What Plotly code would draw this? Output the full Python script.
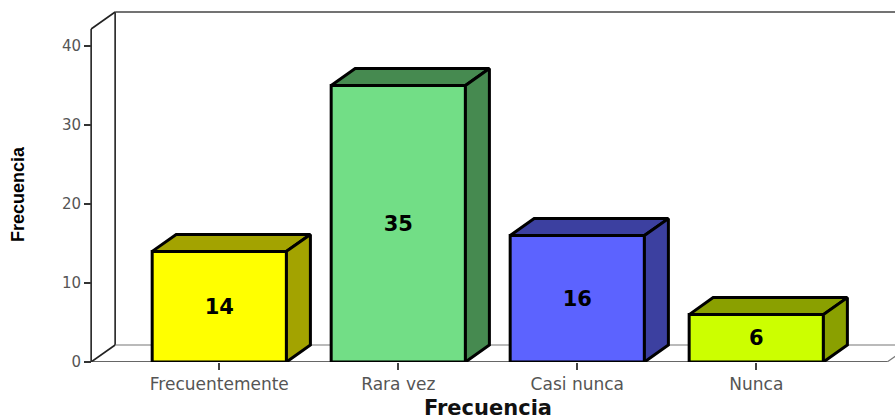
import plotly.graph_objects as go

# data
categories = ["Frecuentemente", "Rara vez", "Casi nunca", "Nunca"]
counts = [14, 35, 16, 6]
front_colors = ["#FFFF00", "#72DE86", "#5C63FF", "#CCFF00"]
shade_colors = ["#A3A300", "#468A50", "#3C40A0", "#8AA000"]
y_ticks = [0, 10, 20, 30, 40]

# fake 3d geometry (axis units)
bar_w = 0.75
dx = 0.134
dy = 2.15
x_lo, x_hi = -0.89, 3.775
y_hi = 45.82
wall_x = -0.716
wall_top = 42.15
floor_end = 3.731

xs = list(range(len(categories)))

fig = go.Figure()

# front faces
fig.add_trace(go.Bar(
    x=xs, y=counts, width=bar_w,
    marker=dict(color=front_colors, line=dict(color="black", width=3)),
    text=[str(v) for v in counts], textposition="inside",
    insidetextanchor="middle", textangle=0,
    textfont=dict(family="DejaVu Sans", size=21, color="black", weight="bold"),
    hoverinfo="skip", showlegend=False,
))

# top and side faces
for x, v, c in zip(xs, counts, shade_colors):
    l, r = x - bar_w / 2, x + bar_w / 2
    fig.add_trace(go.Scatter(
        x=[l, l + dx, r + dx, r, l], y=[v, v + dy, v + dy, v, v],
        fill="toself", fillcolor=c, mode="lines",
        line=dict(color="black", width=3), hoverinfo="skip", showlegend=False,
    ))
    fig.add_trace(go.Scatter(
        x=[r, r + dx, r + dx, r, r], y=[0, dy, v + dy, v, 0],
        fill="toself", fillcolor=c, mode="lines",
        line=dict(color="black", width=3), hoverinfo="skip", showlegend=False,
    ))

# walls and floor
def seg(x0, y0, x1, y1, color="#222", width=1.6):
    fig.add_shape(type="line", xref="x", yref="y", x0=x0, y0=y0, x1=x1, y1=y1,
                  line=dict(color=color, width=width), layer="below")

seg(wall_x, 0, wall_x, wall_top)
seg(wall_x, wall_top, wall_x + dx, wall_top + dy)
seg(wall_x + dx, dy, wall_x + dx, wall_top + dy)
seg(wall_x + dx, wall_top + dy, x_hi + 1, wall_top + dy, color="#444", width=1.4)
seg(wall_x, 0, wall_x + dx, dy)
seg(wall_x, 0, floor_end, 0, color="#333", width=1.6)
seg(wall_x + dx, dy, x_hi + 1, dy, color="#777", width=1.2)
seg(floor_end, 0, floor_end + dx, dy, color="#777", width=1.2)

fig.update_layout(
    width=895, height=419,
    margin=dict(l=60, r=0, t=0, b=57),
    plot_bgcolor="white", paper_bgcolor="white",
    showlegend=False,
    xaxis=dict(
        range=[x_lo, x_hi], tickmode="array", tickvals=xs, ticktext=categories,
        ticks="outside", ticklen=7, tickwidth=1.5, tickcolor="#444",
        showgrid=False, zeroline=False, showline=False,
        tickfont=dict(family="DejaVu Sans", size=17, color="#555"),
    ),
    yaxis=dict(
        range=[0, y_hi], tickmode="array", tickvals=y_ticks,
        ticks="outside", ticklen=7, tickwidth=1.5, tickcolor="#333",
        anchor="free", position=(91 - 60) / 835,
        showgrid=False, zeroline=False, showline=False,
        tickfont=dict(family="DejaVu Sans", size=15, color="#555"),
    ),
    annotations=[
        dict(text="<b>Frecuencia</b>", xref="paper", yref="paper",
             x=(18 - 60) / 835, y=(362 - 194) / 362, textangle=-90,
             showarrow=False, xanchor="center", yanchor="middle",
             font=dict(family="Liberation Sans", size=18, color="black")),
        dict(text="<b>Frecuencia</b>", xref="paper", yref="paper",
             x=(488 - 60) / 835, y=(362 - 408) / 362,
             showarrow=False, xanchor="center", yanchor="middle",
             font=dict(family="DejaVu Sans", size=21, color="#111")),
    ],
)

fig.write_html("out.html", config={"displayModeBar": False},
               post_script="document.body.style.margin='0';")
